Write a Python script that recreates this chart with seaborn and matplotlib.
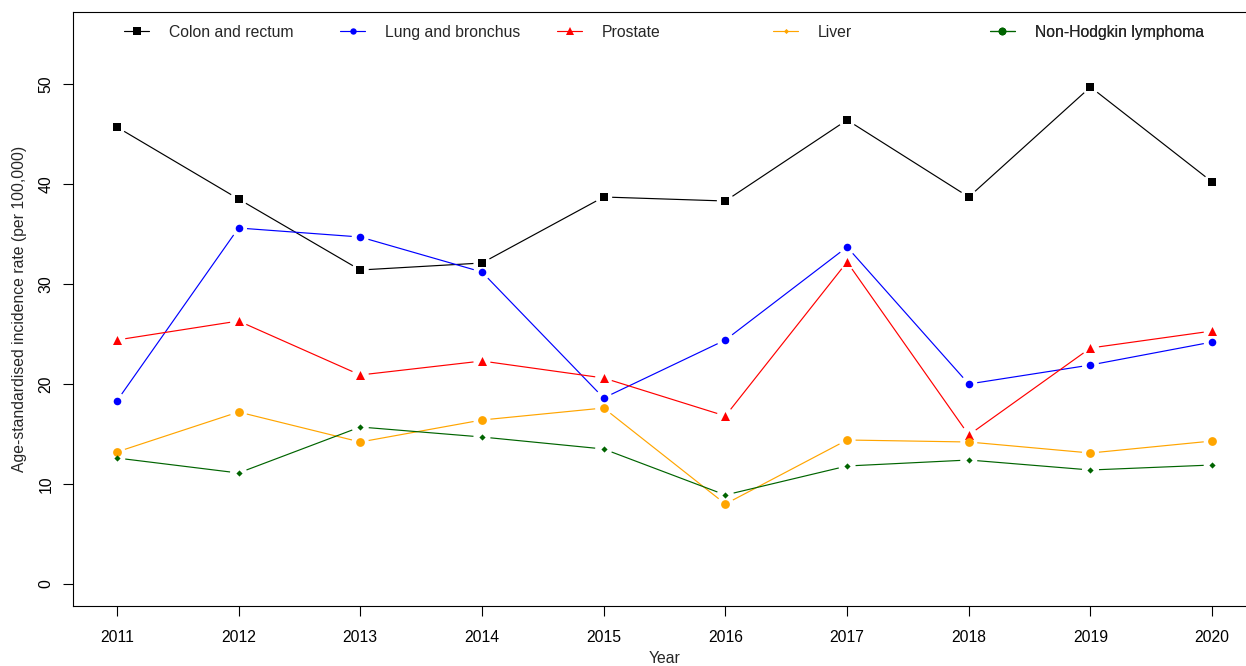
import numpy as np
import matplotlib
matplotlib.use("Agg")
import matplotlib.pyplot as plt
from matplotlib.lines import Line2D
import seaborn as sns

# Age-standardised incidence rates (per 100,000) by year
years = [2011, 2012, 2013, 2014, 2015, 2016, 2017, 2018, 2019, 2020]
colon_rectum = [45.7, 38.5, 31.4, 32.1, 38.7, 38.3, 46.4, 38.7, 49.7, 40.2]
lung_bronchus = [18.3, 35.6, 34.7, 31.2, 18.6, 24.4, 33.7, 20.0, 21.9, 24.2]
prostate = [24.4, 26.3, 20.9, 22.3, 20.6, 16.8, 32.2, 14.9, 23.6, 25.3]
liver = [13.2, 17.2, 14.2, 16.4, 17.6, 8.0, 14.4, 14.2, 13.1, 14.3]
non_hodgkin = [12.6, 11.1, 15.7, 14.7, 13.5, 8.9, 11.8, 12.4, 11.4, 11.9]

series_names = ["Colon and rectum", "Lung and bronchus", "Prostate",
                "Liver", "Non-Hodgkin lymphoma"]
series_values = [colon_rectum, lung_bronchus, prostate, liver, non_hodgkin]
y_ticks = [0, 10, 20, 30, 40, 50]

colors = ["black", "blue", "red", "orange", "darkgreen"]
point_markers = ["s", "o", "^", "o", "D"]
point_sizes = [36, 30, 42, 40, 10]
key_markers = ["s", "o", "^", "D", "o"]
key_sizes = [5.5, 4.6, 6.2, 2.6, 5.6]

sns.set_style("ticks")
plt.rcParams["font.family"] = ["Liberation Sans", "DejaVu Sans"]
FS = 11.3

DPI = 100
fig = plt.figure(figsize=(12.46, 6.66), dpi=DPI)
ax = fig.add_axes([73 / 1246, 60 / 666, 1183 / 1246, 594 / 666])
ax.set_xlim(2010.64, 2020.36)
ax.set_ylim(-2.2, 57.2)

# connecting segments, trimmed around each point (type "b" style)
GAP = 8.5
to_px = ax.transData
to_data = ax.transData.inverted()
for vals, col in zip(series_values, colors):
    pts = to_px.transform(np.column_stack([years, vals]))
    for p0, p1 in zip(pts[:-1], pts[1:]):
        d = p1 - p0
        length = np.hypot(d[0], d[1])
        if length <= 2 * GAP:
            continue
        u = d / length
        seg = to_data.transform(np.vstack([p0 + u * GAP, p1 - u * GAP]))
        ax.plot(seg[:, 0], seg[:, 1], color=col, lw=0.85, zorder=2,
                solid_capstyle="butt")

for vals, col, m, s in zip(series_values, colors, point_markers, point_sizes):
    sns.scatterplot(x=years, y=vals, color=col, marker=m, s=s, linewidth=0,
                    ax=ax, zorder=3, legend=False)

ax.set_xlim(2010.64, 2020.36)
ax.set_ylim(-2.2, 57.2)
ax.set_xticks(years)
ax.set_xticklabels([str(y) for y in years])
ax.set_yticks(y_ticks)
ax.set_yticklabels([str(v) for v in y_ticks])

ax.tick_params(axis="both", direction="out", length=7, width=0.8,
               color="black", labelsize=FS, labelcolor="black")
ax.tick_params(axis="x", pad=10)
ax.tick_params(axis="y", pad=7, labelrotation=90)
for lbl in ax.get_yticklabels():
    lbl.set_va("center")

for sp in ax.spines.values():
    sp.set_linewidth(0.8)
    sp.set_color("black")

ax.set_xlabel("Year", fontsize=FS, labelpad=4.5)
ax.set_ylabel("Age-standardised incidence rate (per 100,000)", fontsize=FS,
              labelpad=8)

# one-row key along the top of the panel
key_x = [0.0431, 0.2257, 0.4091, 0.5917, 0.7751]
key_y = 0.966
for name, col, m, ms, kx in zip(series_names, colors, key_markers, key_sizes, key_x):
    h = Line2D([], [], color=col, lw=0.85, marker=m, markersize=ms,
               markeredgewidth=0)
    leg = ax.legend([h], [name], loc="center left", bbox_to_anchor=(kx, key_y),
                    frameon=False, borderpad=0, borderaxespad=0,
                    handlelength=1.6, handletextpad=1.25, fontsize=FS)
    ax.add_artist(leg)

fig.savefig("out.png", dpi=DPI)
